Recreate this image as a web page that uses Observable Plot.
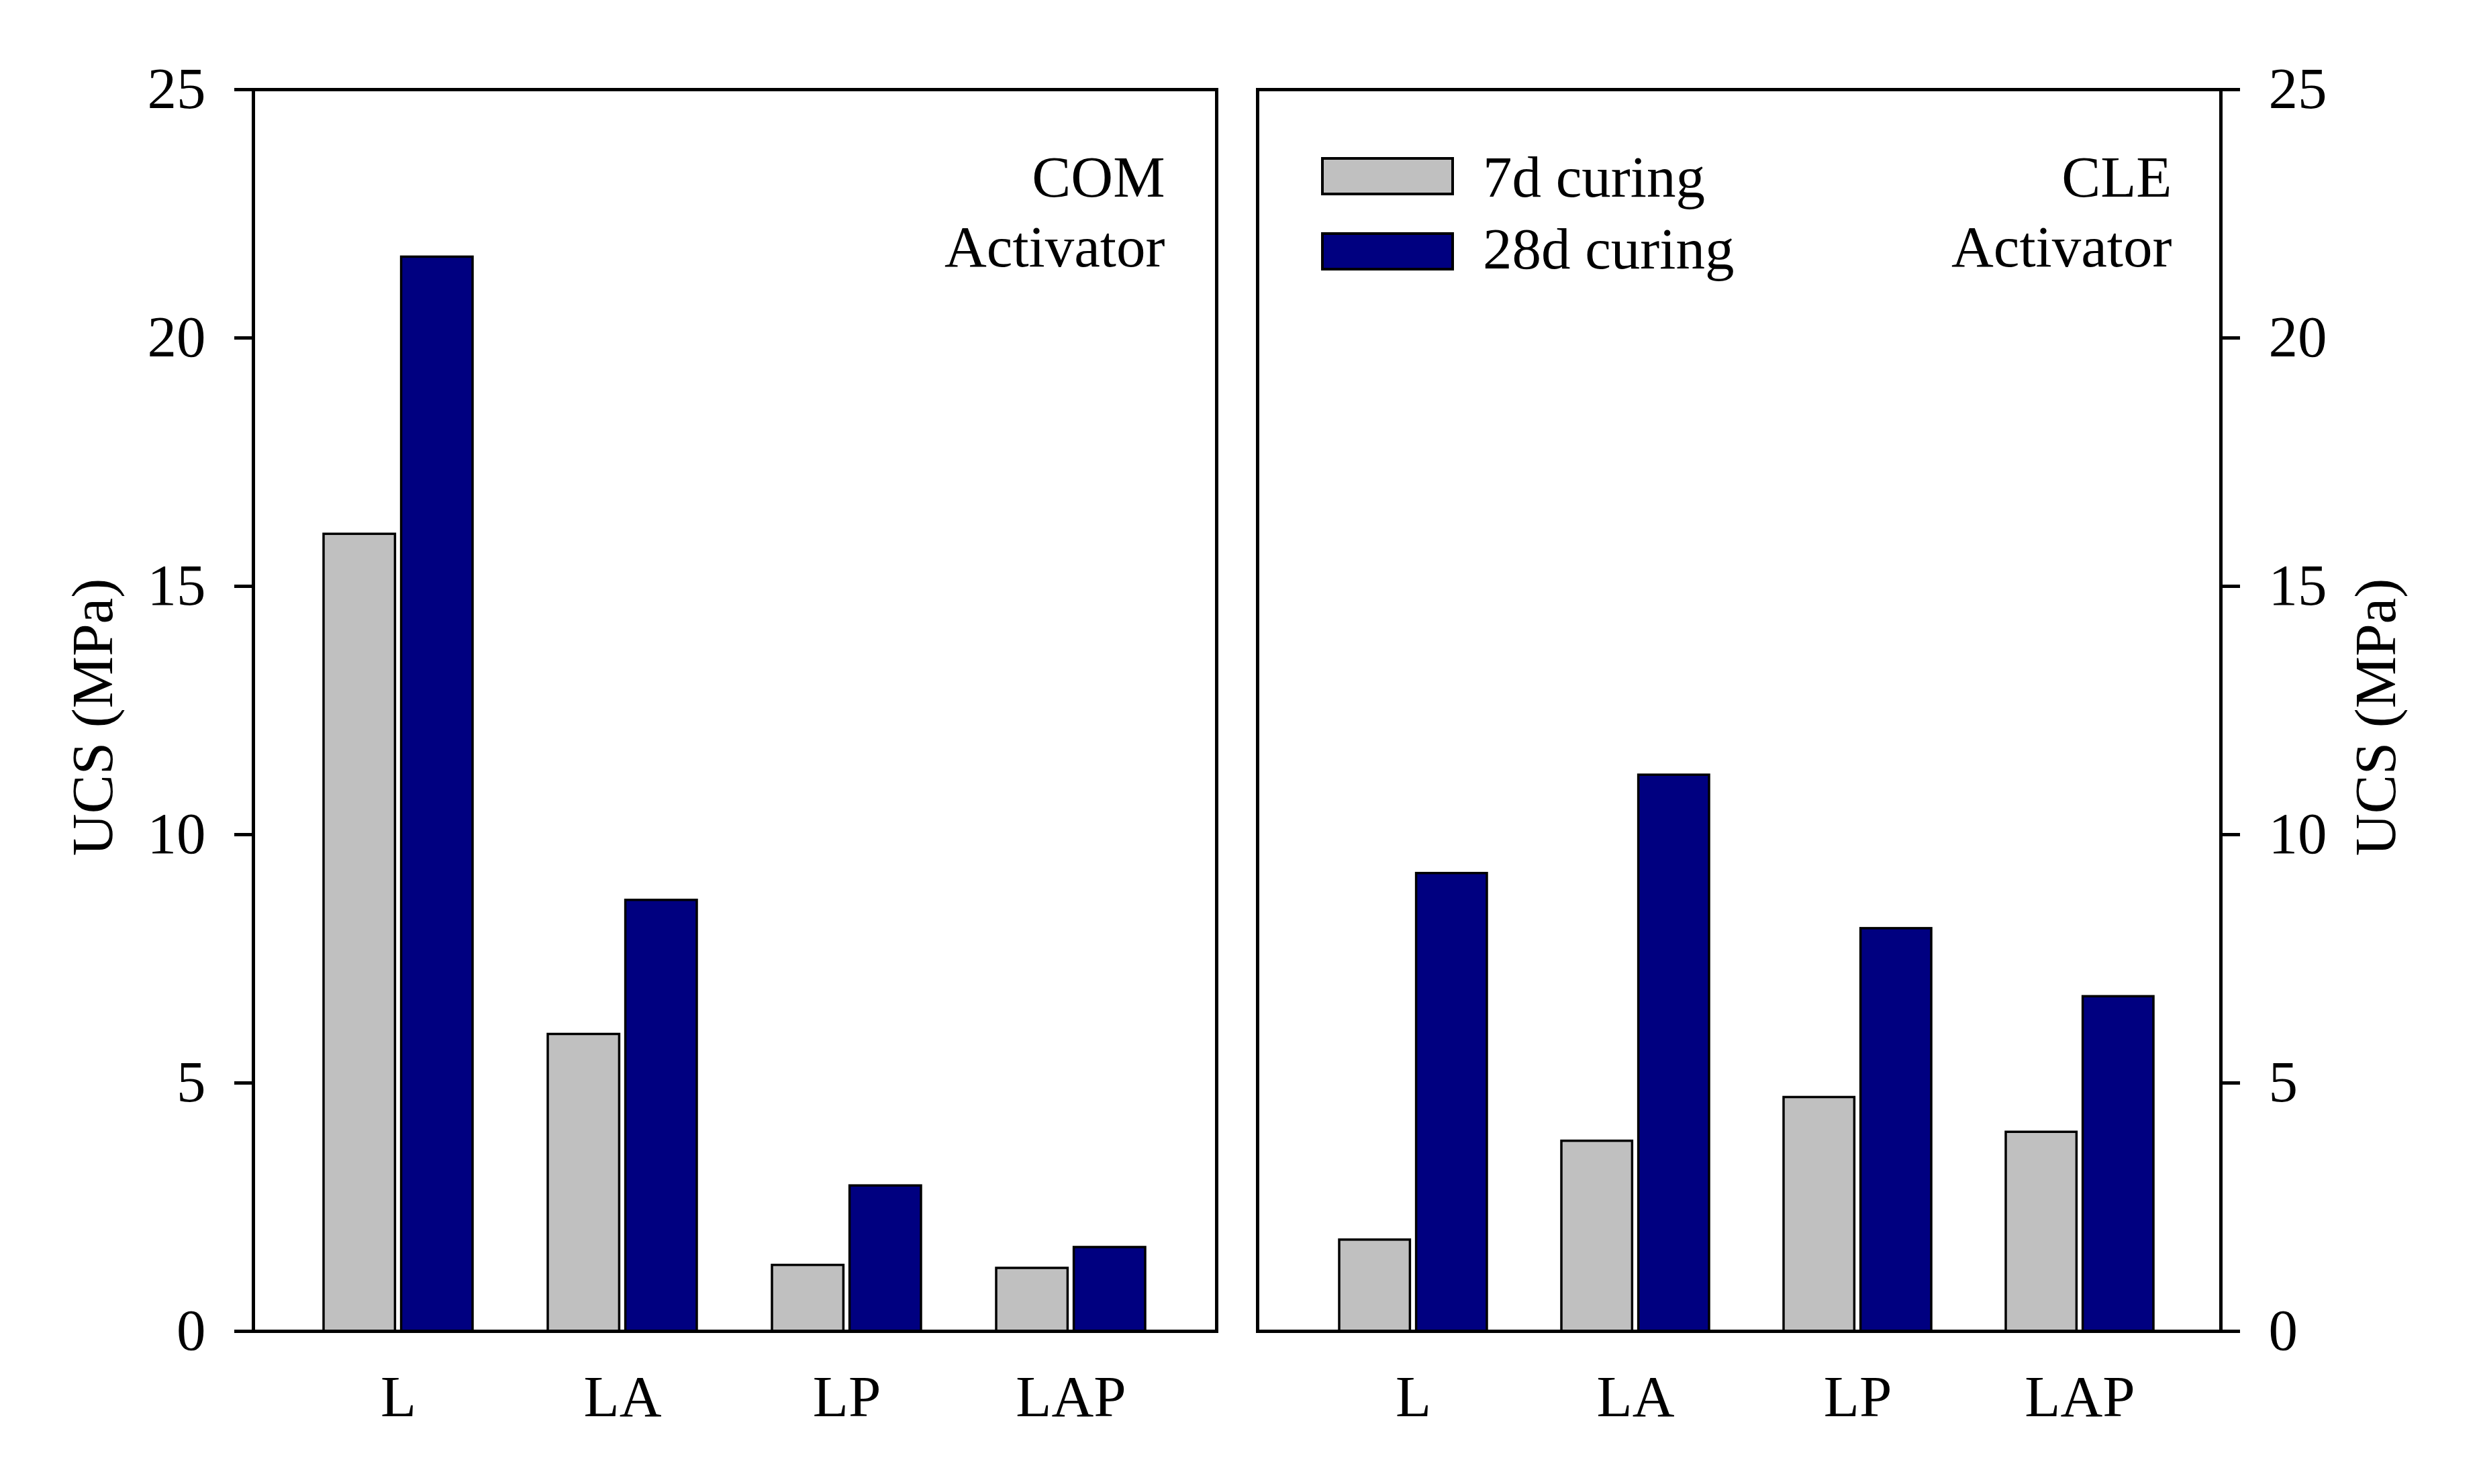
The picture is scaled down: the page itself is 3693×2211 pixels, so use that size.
<!DOCTYPE html>
<html><head><meta charset="utf-8">
<script src="https://cdn.jsdelivr.net/npm/d3@7"></script>
<script src="https://cdn.jsdelivr.net/npm/@observablehq/plot@0.6"></script>
<style>
html,body{margin:0;padding:0;background:#fff;}
#wrap{position:relative;width:3693px;height:2211px;overflow:hidden;font-family:"Liberation Serif","Times New Roman",serif;background:#fff;}
#wrap svg{position:absolute;top:0;}
.sw{position:absolute;box-sizing:border-box;border:4px solid #000;width:198px;height:57px;}
.lt{position:absolute;font-size:87px;line-height:87px;white-space:nowrap;color:#000;}
</style></head>
<body><div id="wrap"></div>
<script>
// ---- data ----
const categories = ["L", "LA", "LP", "LAP"];
const series = ["7d curing", "28d curing"];
const seriesColors = ["#c0c0c0", "#000080"];
const com7d = [16.05, 5.98, 1.33, 1.27];
const com28d = [21.63, 8.68, 2.93, 1.69];
const cle7d = [1.84, 3.83, 4.71, 4.01];
const cle28d = [9.22, 11.20, 8.11, 6.74];
const yTicks = [0, 5, 10, 15, 20, 25];
const yLabel = "UCS (MPa)";
const panelNames = ["COM", "CLE"];
const panelSub = "Activator";

const FONT = "'Liberation Serif','Times New Roman',serif";
const FS = 87;
const H = 2211, TOP = 133, BOTTOM = 1983;

function panel({v7, v28, side, name, left, width, mL, mR, pOuter, align, nameDx}) {
  const rows = categories.flatMap((c, i) => [
    {cat: c, series: series[0], v: v7[i]},
    {cat: c, series: series[1], v: v28[i]}
  ]);
  const W = width - mL - mR;
  const pInner = 0.335;
  const step = W / (categories.length - pInner + 2 * pOuter);
  const bw = step * (1 - pInner);
  const gap = 9;
  const half = bw / 2 + gap / 2;
  const svg = Plot.plot({
    width, height: H,
    marginLeft: mL, marginRight: mR, marginTop: TOP, marginBottom: H - BOTTOM,
    style: {fontFamily: FONT, fontSize: FS + "px", color: "#000", background: "transparent", overflow: "visible"},
    x: {domain: categories, paddingInner: pInner, paddingOuter: pOuter, align},
    y: {domain: [0, 25]},
    color: {domain: series, range: seriesColors},
    marks: [
      Plot.barY(rows.filter(d => d.series === series[0]), {x: "cat", y: "v", fill: "series", stroke: "#000", strokeWidth: 3.5, insetRight: half}),
      Plot.barY(rows.filter(d => d.series === series[1]), {x: "cat", y: "v", fill: "series", stroke: "#000", strokeWidth: 3.5, insetLeft: half}),
      Plot.frame({stroke: "#000", strokeWidth: 5}),
      Plot.axisY({anchor: side, ticks: yTicks, tickSize: 28, tickPadding: 43, tickFormat: d => String(d), label: null, strokeWidth: 5, fontSize: FS}),
      Plot.axisX({anchor: "bottom", tickSize: 0, tickPadding: 65, label: null, fontSize: FS}),
      Plot.text([yLabel], {frameAnchor: side, dx: side === "left" ? -238 : 232, dy: 10, rotate: -90, textAnchor: "middle", fontSize: FS, fill: "#000"}),
      Plot.text([name + "\n" + panelSub], {frameAnchor: "top-right", dx: nameDx, dy: 85, textAnchor: "end", lineAnchor: "top", lineHeight: 1.2, fontSize: FS, fill: "#000"})
    ]
  });
  svg.style.left = left + "px";
  return svg;
}

const wrap = document.getElementById("wrap");
// left panel frame 377..1812, right panel frame 1873..3308
wrap.appendChild(panel({v7: com7d, v28: com28d, side: "left", name: panelNames[0], left: 0, width: 1842, mL: 377, mR: 30, pOuter: 0.315, align: 0.5, nameDx: -77}));
wrap.appendChild(panel({v7: cle7d, v28: cle28d, side: "right", name: panelNames[1], left: 1842, width: 1851, mL: 31, mR: 385, pOuter: 0.334, align: 0.548, nameDx: -73}));

// legend (HTML)
series.forEach((s, i) => {
  const sw = document.createElement("div");
  sw.className = "sw";
  sw.style.left = "1968px";
  sw.style.top = (i === 0 ? 234 : 346) + "px";
  sw.style.background = seriesColors[i];
  wrap.appendChild(sw);
  const t = document.createElement("div");
  t.className = "lt";
  t.style.left = "2209px";
  t.style.top = (i === 0 ? 220 : 327) + "px";
  t.style.fontFamily = FONT;
  t.textContent = s;
  wrap.appendChild(t);
});
</script>
</body></html>
